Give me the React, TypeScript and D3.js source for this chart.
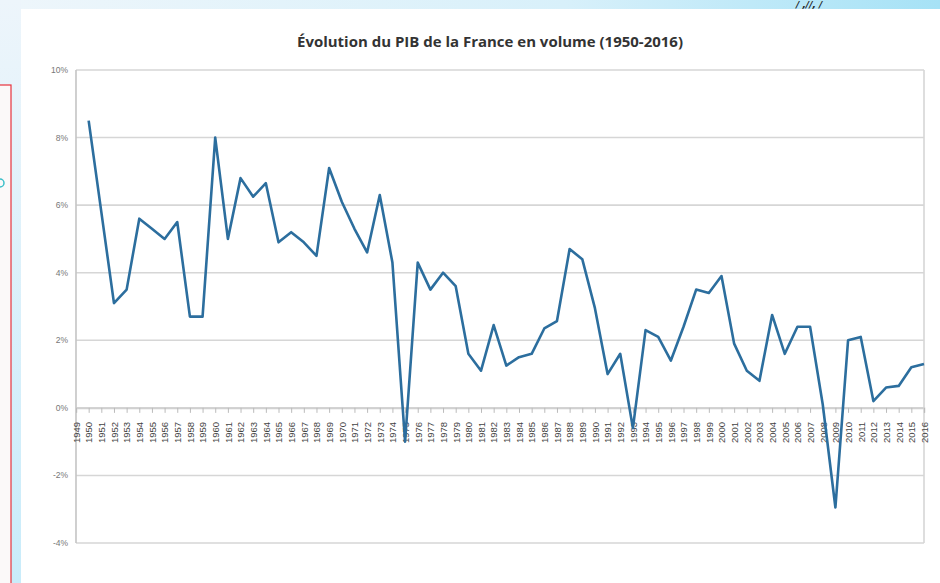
import { useRef, useEffect } from "react";
import * as d3 from "d3";

const years: string[] = d3.range(1949, 2017).map(String);
const dataYears: string[] = d3.range(1950, 2017).map(String);
const growth: number[] = [
  8.5, 5.8, 3.1, 3.5, 5.6, 5.3, 5.0, 5.5, 2.7, 2.7,
  8.0, 5.0, 6.8, 6.25, 6.65, 4.9, 5.2, 4.9, 4.5, 7.1,
  6.1, 5.3, 4.6, 6.3, 4.3, -1.0, 4.3, 3.5, 4.0, 3.6,
  1.6, 1.1, 2.45, 1.25, 1.5, 1.6, 2.35, 2.57, 4.7, 4.4,
  2.95, 1.0, 1.6, -0.6, 2.3, 2.1, 1.4, 2.4, 3.5, 3.4,
  3.9, 1.9, 1.1, 0.8, 2.75, 1.6, 2.4, 2.4, 0.1, -2.95,
  2.0, 2.1, 0.2, 0.6, 0.65, 1.2, 1.3,
];
const yTicks: number[] = [-4, -2, 0, 2, 4, 6, 8, 10];
const title = "Évolution du PIB de la France en volume (1950-2016)";

export default function App() {
  const ref = useRef<SVGSVGElement>(null);

  useEffect(() => {
    document.body.style.margin = "0";
    if (!ref.current) return;
    const svg = d3.select(ref.current); svg.selectAll("*").remove();
    const W = 940, H = 583;
    svg.attr("width", W).attr("height", H);

    // slide background around the chart
    const defs = svg.append("defs");
    const topG = defs.append("linearGradient").attr("id", "topg");
    topG.append("stop").attr("offset", "0%").attr("stop-color", "#eef6fb");
    topG.append("stop").attr("offset", "60%").attr("stop-color", "#d8f0fa");
    topG.append("stop").attr("offset", "100%").attr("stop-color", "#a6e2f6");
    const leftG = defs.append("linearGradient").attr("id", "leftg").attr("x1", 0).attr("x2", 0).attr("y1", 0).attr("y2", 1);
    leftG.append("stop").attr("offset", "0%").attr("stop-color", "#edf5fb");
    leftG.append("stop").attr("offset", "100%").attr("stop-color", "#c9ecfa");
    svg.append("rect").attr("width", W).attr("height", H).attr("fill", "#ffffff");
    svg.append("rect").attr("width", W).attr("height", 9).attr("fill", "url(#topg)");
    svg.append("rect").attr("width", 21).attr("height", H).attr("fill", "url(#leftg)");
    svg.append("rect").attr("x", -2).attr("y", 85).attr("width", 13).attr("height", H).attr("fill", "#fbf9f9")
      .attr("stroke", "#e8323c").attr("stroke-width", 1.2);
    svg.append("circle").attr("cx", 0).attr("cy", 183).attr("r", 4).attr("fill", "none").attr("stroke", "#3bbfc9").attr("stroke-width", 1.5);
    svg.append("text").attr("x", 796).attr("y", 8).attr("font-family", "DejaVu Sans").attr("font-style", "italic")
      .attr("font-weight", "bold").attr("font-size", "9px").attr("fill", "#222").text("/ ,//, /");

    const x = d3.scalePoint<string>().domain(years).range([76, 924]);
    const y = d3.scaleLinear().domain([-4, 10]).range([543, 70]);
    const g = svg.append("g");

    g.append("text").attr("x", 490).attr("y", 47).attr("text-anchor", "middle")
      .attr("font-family", "Open Sans").attr("font-weight", 700).attr("font-size", "13.5px").attr("fill", "#333")
      .attr("textLength", 386).attr("lengthAdjust", "spacingAndGlyphs").text(title);

    // gridlines
    g.selectAll(".grid").data(yTicks).join("line")
      .attr("x1", 76).attr("x2", 924).attr("y1", d => y(d)).attr("y2", d => y(d))
      .attr("stroke", "#d6d6d6").attr("stroke-width", 1.6);
    g.append("line").attr("x1", 76).attr("x2", 76).attr("y1", y(10)).attr("y2", y(-4)).attr("stroke", "#c4c4c4").attr("stroke-width", 1.6);
    g.append("line").attr("x1", 924).attr("x2", 924).attr("y1", y(10)).attr("y2", y(-4)).attr("stroke", "#d6d6d6").attr("stroke-width", 1.6);

    g.selectAll(".ylab").data(yTicks).join("text")
      .attr("x", 68).attr("y", d => y(d) + 3).attr("text-anchor", "end")
      .attr("font-family", "Liberation Sans").attr("font-size", "8.5px").attr("fill", "#777").text(d => d + "%");

    // category axis on the 0 line
    const xAxis = g.append("g").attr("transform", `translate(0,${y(0)})`)
      .call(d3.axisBottom(x).tickSize(5));
    xAxis.select(".domain").attr("stroke", "#d0d0d0").attr("stroke-width", 1.6);
    xAxis.selectAll(".tick line").attr("stroke", "#bbb");
    xAxis.selectAll(".tick text")
      .attr("transform", "rotate(-90)").attr("text-anchor", "end")
      .attr("x", -14).attr("y", 0).attr("dy", "0.35em")
      .attr("font-family", "Liberation Sans").attr("font-size", "9.5px").attr("fill", "#444").text(d => String(d));

    const line = d3.line<number>().x((_d, i) => x(dataYears[i])!).y(d => y(d));
    g.append("path").datum(growth).attr("fill", "none").attr("stroke", "#2c6e9e")
      .attr("stroke-width", 2.6).attr("stroke-linejoin", "round").attr("d", line);
  }, []);

  return <svg ref={ref} style={{ display: "block" }} />;
}
